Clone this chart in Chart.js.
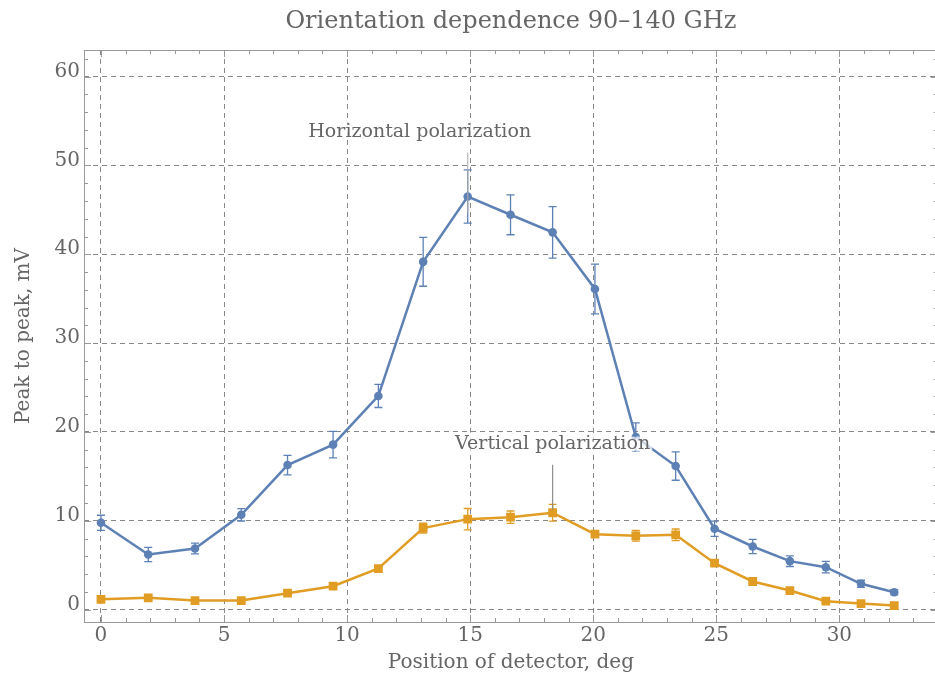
<!DOCTYPE html>
<html>
<head>
<meta charset="utf-8">
<script src="https://cdn.jsdelivr.net/npm/chart.js@4.4.1/dist/chart.umd.min.js"></script>
<style>
    html, body { margin: 0; padding: 0; background: #fff; overflow: hidden; }
    #contenedor { width: 944px; height: 693px; position: relative; }
</style>
</head>
<body>
<div id="contenedor"><canvas id="myChart"></canvas></div>
<script>
// datos
const posicion = [0, 1.92, 3.82, 5.70, 7.58, 9.43, 11.27, 13.09, 14.90, 16.64, 18.35, 20.07, 21.73, 23.35, 24.93, 26.48, 27.99, 29.45, 30.88, 32.23];
const horizontal = [9.77, 6.2, 6.88, 10.67, 16.27, 18.57, 24.05, 39.15, 46.5, 44.45, 42.47, 36.1, 19.43, 16.16, 9.1, 7.1, 5.45, 4.77, 2.9, 1.95];
const errHorizontal = [0.85, 0.8, 0.6, 0.7, 1.1, 1.5, 1.3, 2.75, 3.0, 2.25, 2.9, 2.8, 1.6, 1.6, 0.85, 0.8, 0.6, 0.65, 0.4, 0.3];
const vertical = [1.16, 1.32, 1.01, 1.01, 1.84, 2.63, 4.62, 9.17, 10.18, 10.4, 10.9, 8.49, 8.3, 8.42, 5.22, 3.16, 2.14, 0.94, 0.68, 0.45];
const errVertical = [0.2, 0.2, 0.2, 0.2, 0.2, 0.2, 0.2, 0.55, 1.2, 0.7, 0.95, 0.3, 0.6, 0.65, 0.2, 0.2, 0.2, 0.2, 0.2, 0.2];
const etiquetas = ['Horizontal polarization', 'Vertical polarization'];
const titulo = 'Orientation dependence 90\u2013140 GHz';

const azul = '#5e81b5';
const naranja = '#e19c24';
const gris = '#666';
const fuente = '"DejaVu Serif", "Liberation Serif", serif';

const puntos = (valores) => posicion.map((x, i) => ({ x: x, y: valores[i] }));

// barras de error
const barrasError = {
    id: 'barrasError',
    beforeDatasetsDraw(chart) {
        const { ctx, scales: { x, y } } = chart;
        const errores = [errHorizontal, errVertical];
        chart.data.datasets.forEach((ds, d) => {
            ctx.save();
            ctx.strokeStyle = ds.borderColor;
            ctx.lineWidth = 1.3;
            ds.data.forEach((p, i) => {
                let px = x.getPixelForValue(p.x);
                let y1 = y.getPixelForValue(p.y + errores[d][i]);
                let y2 = y.getPixelForValue(p.y - errores[d][i]);
                ctx.beginPath();
                ctx.moveTo(px, y1); ctx.lineTo(px, y2);
                ctx.moveTo(px - 4, y1); ctx.lineTo(px + 4, y1);
                ctx.moveTo(px - 4, y2); ctx.lineTo(px + 4, y2);
                ctx.stroke();
            });
            ctx.restore();
        });
    }
};

// marco, marcas hacia adentro y titulo centrado sobre el marco
const marco = {
    id: 'marco',
    beforeDatasetsDraw(chart) {
        const { ctx, chartArea: a, scales: { x, y } } = chart;
        ctx.save();
        ctx.strokeStyle = '#999';
        ctx.lineWidth = 1;
        ctx.strokeRect(a.left + 0.5, a.top + 0.5, a.right - a.left, a.bottom - a.top);
        ctx.beginPath();
        for (let v = 0; v <= 34; v++) {
            let px = Math.round(x.getPixelForValue(v)) + 0.5;
            let l = v % 5 === 0 ? 7 : 4;
            ctx.moveTo(px, a.bottom); ctx.lineTo(px, a.bottom - l);
            ctx.moveTo(px, a.top); ctx.lineTo(px, a.top + l);
        }
        for (let v = 0; v <= 62; v += 2) {
            let py = Math.round(y.getPixelForValue(v)) + 0.5;
            let l = v % 10 === 0 ? 7 : 4;
            ctx.moveTo(a.left, py); ctx.lineTo(a.left + l, py);
            ctx.moveTo(a.right, py); ctx.lineTo(a.right - l, py);
        }
        ctx.stroke();

        ctx.fillStyle = gris;
        ctx.font = '24px ' + fuente;
        ctx.textAlign = 'center';
        ctx.textBaseline = 'middle';
        ctx.fillText(titulo, (a.left + a.right) / 2, a.top - 28);
        ctx.restore();
    }
};

// etiquetas de las curvas con linea guia
const rotulos = {
    id: 'rotulos',
    afterDatasetsDraw(chart) {
        const { ctx, scales: { x, y } } = chart;
        let ph = { x: x.getPixelForValue(posicion[8]), y: y.getPixelForValue(horizontal[8]) };
        let pv = { x: x.getPixelForValue(posicion[10]), y: y.getPixelForValue(vertical[10]) };
        ctx.save();
        ctx.lineWidth = 1.2;
        ctx.beginPath();
        ctx.strokeStyle = 'rgba(170,170,170,0.85)';
        ctx.moveTo(ph.x, ph.y - 44); ctx.lineTo(ph.x, ph.y + 17);
        ctx.stroke();
        ctx.beginPath();
        ctx.strokeStyle = 'rgba(130,130,130,0.9)';
        ctx.moveTo(pv.x, pv.y - 48); ctx.lineTo(pv.x, pv.y - 3);
        ctx.stroke();
        ctx.font = '19px ' + fuente;
        ctx.textAlign = 'center';
        ctx.textBaseline = 'middle';
        ctx.lineWidth = 5;
        ctx.strokeStyle = 'rgba(255,255,255,0.7)';
        ctx.fillStyle = gris;
        ctx.strokeText(etiquetas[0], ph.x - 48, ph.y - 64);
        ctx.fillText(etiquetas[0], ph.x - 48, ph.y - 64);
        ctx.strokeText(etiquetas[1], pv.x, pv.y - 69);
        ctx.fillText(etiquetas[1], pv.x, pv.y - 69);
        ctx.restore();
    }
};

const ctx = document.getElementById('myChart');

let chart = new Chart(ctx, {
    type: 'scatter',
    data: {
        datasets: [{
            data: puntos(horizontal),
            showLine: true,
            borderColor: azul,
            backgroundColor: azul,
            borderWidth: 2.5,
            pointStyle: 'circle',
            pointRadius: 4.3,
            pointBorderWidth: 0
        },
        {
            data: puntos(vertical),
            showLine: true,
            borderColor: naranja,
            backgroundColor: naranja,
            borderWidth: 2.5,
            pointStyle: 'rect',
            pointRadius: 6.2,
            pointBorderWidth: 0
        }]
    },
    options: {
        responsive: true,
        maintainAspectRatio: false,
        animation: false,
        layout: { padding: { top: 50, left: 0, right: 0, bottom: 0 } },
        scales: {
            x: {
                type: 'linear',
                min: -0.69,
                max: 34,
                afterFit: (s) => { s.height = 71; },
                border: { display: false, dash: [5, 4] },
                grid: { color: '#888', drawTicks: false },
                ticks: {
                    stepSize: 5,
                    includeBounds: false,
                    padding: 2,
                    color: gris,
                    font: { family: fuente, size: 20 }
                },
                title: {
                    display: true,
                    text: 'Position of detector, deg',
                    color: gris,
                    font: { family: fuente, size: 20 },
                    padding: { top: 0, bottom: 18 }
                }
            },
            y: {
                type: 'linear',
                min: -1.4,
                max: 63.0,
                afterFit: (s) => { s.width = 84; },
                border: { display: false, dash: [5, 4] },
                grid: { color: '#888', drawTicks: false },
                ticks: {
                    stepSize: 10,
                    includeBounds: false,
                    padding: 4,
                    labelOffset: -5,
                    color: gris,
                    font: { family: fuente, size: 20 }
                },
                title: {
                    display: true,
                    text: 'Peak to peak, mV',
                    color: gris,
                    font: { family: fuente, size: 20 },
                    padding: { top: 12, bottom: 0 }
                }
            }
        },
        plugins: {
            legend: { display: false },
            tooltip: { enabled: false }
        }
    },
    plugins: [marco, barrasError, rotulos]
});
</script>
</body>
</html>
